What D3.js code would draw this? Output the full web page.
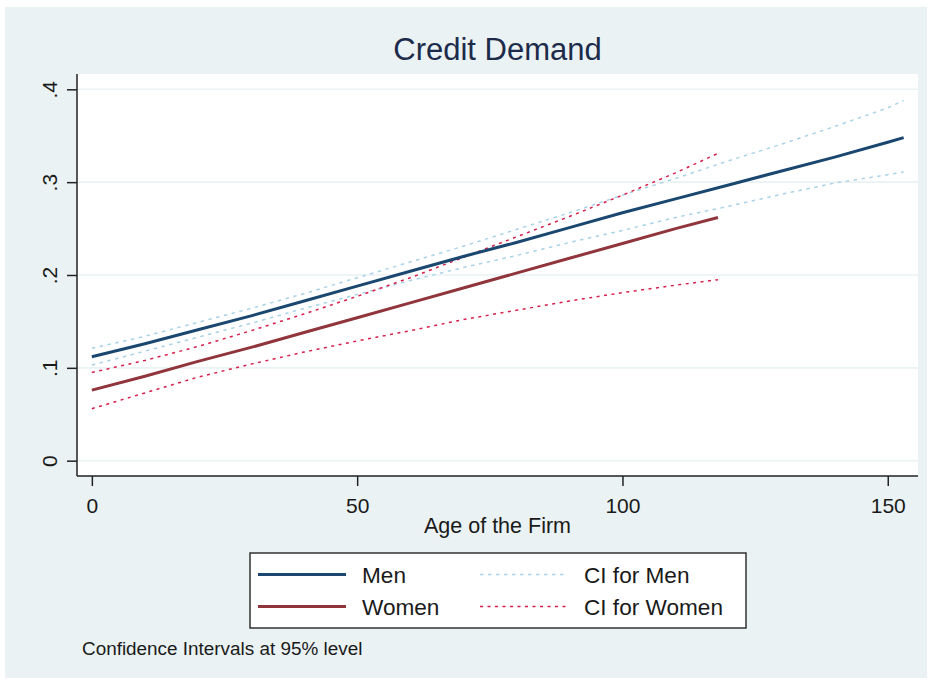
<!DOCTYPE html>
<html>
<head>
<meta charset="utf-8">
<script src="https://cdn.jsdelivr.net/npm/d3@7"></script>
<style>
html,body{margin:0;padding:0;background:#fff;}
text{font-family:"Liberation Sans",Arial,Helvetica,sans-serif;}
</style>
</head>
<body>
<svg id="chart" width="932" height="683"></svg>
<script>
// ---- data ----
const title = "Credit Demand";
const xTitle = "Age of the Firm";
const note = "Confidence Intervals at 95% level";
const xTicks = [0, 50, 100, 150];
const yTicks = [0, 0.1, 0.2, 0.3, 0.4];
const yTickLabels = ["0", ".1", ".2", ".3", ".4"];

const menAge   = [0, 10, 20, 30, 40, 50, 60, 70, 80, 90, 100, 110, 120, 130, 140, 150, 153];
const menFit   = [.112,.126,.141,.156,.172,.188,.204,.220,.235,.251,.267,.282,.297,.312,.327,.343,.348];
const menUpper = [.121,.134,.149,.164,.180,.197,.214,.231,.249,.267,.286,.304,.323,.341,.360,.380,.388];
const menLower = [.103,.118,.133,.148,.164,.179,.194,.208,.221,.235,.248,.262,.274,.287,.299,.308,.311];

const womenAge   = [0, 10, 20, 30, 40, 50, 60, 70, 80, 90, 100, 110, 118];
const womenFit   = [.076,.091,.107,.122,.138,.154,.170,.186,.202,.218,.234,.250,.262];
const womenUpper = [.095,.108,.123,.140,.158,.177,.197,.219,.241,.263,.286,.310,.331];
const womenLower = [.056,.073,.090,.104,.117,.129,.140,.152,.162,.172,.181,.189,.195];

const legendLabels = ["Men", "Women", "CI for Men", "CI for Women"];

// ---- layout ----
const svg = d3.select("#chart");
const plot = {left: 77, right: 918, top: 74, bottom: 476};
const C = {
  bg: "#eaf2f3", grid: "#eaf2f3", axis: "#222",
  men: "#1a476f", women: "#90353b", ciMen: "#a9d3e6", ciWomen: "#d81e4c",
  text: "#1a1a1a", title: "#1c2b4a"
};

const x = d3.scaleLinear().domain([-2.8, 155.7]).range([plot.left, plot.right]);
const y = d3.scaleLinear().domain([-0.0165, 0.4165]).range([plot.bottom, plot.top]);

// graph region background
svg.append("rect").attr("x", 5).attr("y", 7).attr("width", 922).attr("height", 671).attr("fill", C.bg);
// plot region
svg.append("rect").attr("x", plot.left).attr("y", plot.top)
  .attr("width", plot.right - plot.left).attr("height", plot.bottom - plot.top).attr("fill", "#fff");

// gridlines
svg.append("g").selectAll("line").data(yTicks).join("line")
  .attr("x1", plot.left).attr("x2", plot.right)
  .attr("y1", d => y(d)).attr("y2", d => y(d))
  .attr("stroke", C.grid).attr("stroke-width", 1.6);

// title
svg.append("text").attr("x", (plot.left + plot.right) / 2).attr("y", 60)
  .attr("text-anchor", "middle").attr("font-size", 31).attr("fill", C.title).text(title);

// lines
const line = (ages, vals) => d3.line().x((d, i) => x(ages[i])).y(d => y(d))(vals);
const series = [
  {ages: menAge, vals: menUpper, color: C.ciMen, w: 1.5, dash: "3.5,4.5"},
  {ages: menAge, vals: menLower, color: C.ciMen, w: 1.5, dash: "3.5,4.5"},
  {ages: womenAge, vals: womenUpper, color: C.ciWomen, w: 1.5, dash: "3,4.5"},
  {ages: womenAge, vals: womenLower, color: C.ciWomen, w: 1.5, dash: "3,4.5"},
  {ages: menAge, vals: menFit, color: C.men, w: 3, dash: null},
  {ages: womenAge, vals: womenFit, color: C.women, w: 3, dash: null}
];
svg.append("g").selectAll("path").data(series).join("path")
  .attr("d", d => line(d.ages, d.vals))
  .attr("fill", "none").attr("stroke", d => d.color).attr("stroke-width", d => d.w)
  .attr("stroke-dasharray", d => d.dash);

// y axis
const yAxis = svg.append("g").attr("transform", `translate(${plot.left},0)`)
  .call(d3.axisLeft(y).tickValues(yTicks).tickSize(10).tickFormat((d, i) => yTickLabels[i]));
yAxis.select(".domain").attr("d", `M0,${plot.top}V${plot.bottom}`).attr("stroke", C.axis).attr("stroke-width", 1.5);
yAxis.selectAll(".tick line").attr("stroke", C.axis).attr("stroke-width", 1.5);
yAxis.selectAll(".tick text")
  .attr("font-size", 21).attr("fill", C.text)
  .attr("transform", "rotate(-90)").attr("x", 0).attr("y", -20)
  .attr("text-anchor", "middle").attr("dy", 0);

// x axis
const xAxis = svg.append("g").attr("transform", `translate(0,${plot.bottom})`)
  .call(d3.axisBottom(x).tickValues(xTicks).tickSize(10).tickFormat(d3.format("d")));
xAxis.select(".domain").attr("d", `M${plot.left},0H${plot.right}`).attr("stroke", C.axis).attr("stroke-width", 1.5);
xAxis.selectAll(".tick line").attr("stroke", C.axis).attr("stroke-width", 1.5);
xAxis.selectAll(".tick text").attr("font-size", 21).attr("fill", C.text).attr("y", 37).attr("dy", 0);

svg.append("text").attr("x", (plot.left + plot.right) / 2).attr("y", 533)
  .attr("text-anchor", "middle").attr("font-size", 21.5).attr("fill", C.text).text(xTitle);

// legend
const lg = svg.append("g");
lg.append("rect").attr("x", 250).attr("y", 553).attr("width", 496).attr("height", 75)
  .attr("fill", "#fff").attr("stroke", "#333").attr("stroke-width", 1.5);
const items = [
  {label: legendLabels[0], color: C.men, w: 3, dash: null, x0: 258, ly: 574.5},
  {label: legendLabels[1], color: C.women, w: 3, dash: null, x0: 258, ly: 606.5},
  {label: legendLabels[2], color: C.ciMen, w: 1.5, dash: "3.5,4.5", x0: 480, ly: 574.5},
  {label: legendLabels[3], color: C.ciWomen, w: 1.5, dash: "3,4.5", x0: 480, ly: 606.5}
];
items.forEach(it => {
  lg.append("line").attr("x1", it.x0).attr("x2", it.x0 + 88).attr("y1", it.ly).attr("y2", it.ly)
    .attr("stroke", it.color).attr("stroke-width", it.w).attr("stroke-dasharray", it.dash);
  lg.append("text").attr("x", it.x0 + 104).attr("y", it.ly + 8.5)
    .attr("font-size", 22.6).attr("fill", C.text).text(it.label);
});

// note
svg.append("text").attr("x", 82).attr("y", 655).attr("font-size", 18.9).attr("fill", C.text).text(note);
</script>
</body>
</html>
